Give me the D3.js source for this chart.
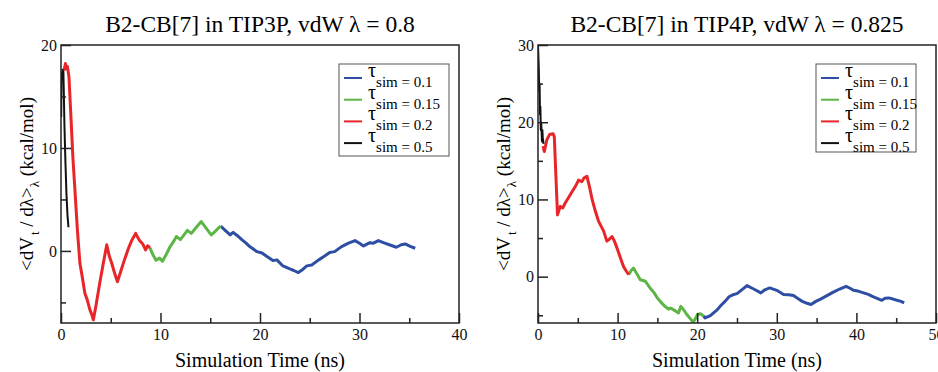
<!DOCTYPE html>
<html>
<head>
<meta charset="utf-8">
<script src="https://cdn.jsdelivr.net/npm/d3@7"></script>
<style>
  body { margin: 0; background: #fff; }
  svg { display: block; }
  svg text { font-family: 'Liberation Serif', Times, 'Times New Roman', 'DejaVu Serif', serif !important; }
</style>
</head>
<body>
<div id="chart"></div>
<script>
// series data, [time (ns), <dV/dλ> (kcal/mol)]
const tip3pTau05 = [[0.02,13],[0.05,16.5],[0.08,17.3],[0.12,16.8],[0.16,17.6],[0.2,17],[0.24,17.4],[0.28,15.5],[0.35,12],[0.45,8.5],[0.55,5.5],[0.65,3.5],[0.75,2.3]];
const tip3pTau02 = [[0.3,17.5],[0.45,18.2],[0.55,17.7],[0.65,17.9],[0.8,16.9],[1.0,13],[1.2,9],[1.4,5.9],[1.65,2],[1.9,-1.2],[2.15,-2.6],[2.4,-4.1],[2.65,-4.8],[2.9,-5.7],[3.1,-6.2],[3.25,-6.7],[3.5,-5.4],[3.9,-3.1],[4.25,-1.2],[4.6,0.6],[4.85,-0.5],[5.1,-1.2],[5.4,-2.2],[5.67,-3.0],[6.0,-2.0],[6.4,-0.8],[6.8,0.3],[7.1,1.0],[7.5,1.7],[7.9,1.0],[8.2,0.7],[8.5,0.1],[8.7,0.5],[8.95,0.3]];
const tip3pTau015 = [[8.95,0.3],[9.2,-0.3],[9.55,-0.9],[9.9,-0.7],[10.2,-1.0],[10.6,-0.3],[10.95,0.4],[11.3,0.9],[11.6,1.4],[12.0,1.1],[12.4,1.6],[12.7,2.0],[13.1,1.7],[13.6,2.3],[14.1,2.85],[14.6,2.2],[15.1,1.55],[15.5,1.9],[15.8,2.2],[16.05,2.4]];
const tip3pTau01 = [[16.05,2.4],[16.5,2.0],[17.0,1.55],[17.3,1.8],[17.7,1.5],[18.2,1.07],[18.6,0.75],[19.0,0.4],[19.7,-0.07],[20.2,-0.2],[20.7,-0.55],[21.3,-0.94],[21.7,-0.87],[22.3,-1.46],[23.0,-1.75],[23.4,-1.9],[23.85,-2.1],[24.3,-1.8],[24.7,-1.45],[25.2,-1.36],[25.9,-0.87],[26.5,-0.5],[27.0,-0.16],[27.5,-0.07],[28.2,0.42],[28.9,0.75],[29.55,1.0],[30.0,0.75],[30.4,0.49],[31.05,0.8],[31.4,0.75],[31.9,1.0],[32.4,0.8],[33.0,0.6],[33.7,0.36],[34.2,0.6],[34.6,0.68],[35.1,0.45],[35.6,0.26]];

const tip4pTau05 = [[0,30],[0.1,27],[0.15,24],[0.2,25],[0.25,21],[0.3,22],[0.35,19],[0.4,20],[0.5,17.5],[0.55,19],[0.6,18],[0.7,17.2]];
const tip4pTau02 = [[0.63,16.9],[0.8,16.2],[1.1,17.7],[1.45,18.4],[1.9,18.5],[2.05,18.1],[2.25,13],[2.45,8.0],[2.8,9.1],[3.1,8.9],[3.4,9.5],[4.05,10.6],[4.7,11.7],[5.1,12.5],[5.5,12.3],[5.8,12.8],[6.15,13.0],[6.5,11.5],[6.8,10.0],[7.2,8.5],[7.6,7.2],[8.25,5.9],[8.65,4.6],[8.9,4.8],[9.3,5.2],[9.6,4.6],[10.0,3.5],[10.4,2.3],[10.75,1.3],[11.1,0.7],[11.4,0.26]];
const tip4pTau015 = [[11.4,0.26],[11.7,0.8],[12.0,1.1],[12.4,0.4],[12.85,-0.4],[13.5,-0.6],[14.1,-1.5],[14.6,-2.1],[14.95,-2.7],[15.35,-3.2],[15.9,-3.8],[16.4,-4.2],[16.65,-4.05],[17.2,-4.4],[17.65,-4.7],[17.95,-3.84],[18.3,-4.3],[18.7,-4.9],[19.1,-5.4],[19.5,-5.9],[19.8,-5.4],[20.05,-4.9],[20.4,-4.8],[20.8,-5.1]];
const tip4pTau01 = [[20.8,-5.1],[21.0,-5.35],[21.65,-5.05],[22.5,-4.3],[23.0,-3.7],[23.5,-3.2],[24.0,-2.6],[24.6,-2.3],[25.0,-2.2],[25.6,-1.7],[26.25,-1.16],[27.1,-1.6],[28.0,-2.1],[28.5,-1.7],[29.1,-1.46],[30.0,-1.77],[30.85,-2.3],[31.5,-2.35],[32.1,-2.45],[32.6,-2.8],[33.2,-3.2],[33.8,-3.45],[34.3,-3.6],[34.9,-3.2],[35.5,-2.9],[36.3,-2.45],[37.1,-2.0],[37.9,-1.6],[38.7,-1.25],[39.2,-1.5],[39.65,-1.77],[40.3,-1.9],[40.9,-2.1],[41.5,-2.3],[42.0,-2.55],[42.6,-2.8],[43.2,-3.06],[43.6,-2.8],[44.05,-2.75],[44.6,-2.9],[45.1,-3.06],[45.6,-3.2],[46.0,-3.4]];

const legendLabels = ['sim = 0.1', 'sim = 0.15', 'sim = 0.2', 'sim = 0.5'];
const colors = ['#2e4ea3', '#5cb545', '#e8262a', '#111111'];

const tip3pXTicks = [0, 10, 20, 30, 40];
const tip3pYTicks = [0, 10, 20];
const tip4pXTicks = [0, 10, 20, 30, 40, 50];
const tip4pYTicks = [0, 10, 20, 30];

const width = 938, height = 372;
const svg = d3.select('#chart').append('svg').attr('width', width).attr('height', height);

function drawPanel(p) {
  const x = d3.scaleLinear().domain(p.xDomain).range([p.L, p.R]);
  const y = d3.scaleLinear().domain(p.yDomain).range([p.B, p.T]);
  const g = svg.append('g');

  // title
  g.append('text')
    .attr('x', (p.L + p.R) / 2).attr('y', 32)
    .attr('text-anchor', 'middle').style('font-size', '23.5px')
    .text(p.title);

  // series (plotted in order: blue, green, red, black on top)
  const line = d3.line().x(d => x(d[0])).y(d => y(d[1]));
  const clipId = 'clip' + p.id;
  g.append('clipPath').attr('id', clipId)
    .append('rect').attr('x', p.L).attr('y', p.T).attr('width', p.R - p.L).attr('height', p.B - p.T);
  p.series.forEach((s, i) => {
    g.append('path').datum(s)
      .attr('clip-path', `url(#${clipId})`)
      .attr('fill', 'none')
      .attr('stroke', colors[i])
      .attr('stroke-width', i === 3 ? 2 : 3)
      .attr('stroke-linejoin', 'round')
      .attr('d', line);
  });

  // axes, ticks pointing inward
  const xAxis = d3.axisBottom(x).tickValues(p.xTicks).tickSizeInner(-10).tickSizeOuter(0).tickPadding(5);
  const xMinor = d3.axisBottom(x).tickValues(p.xTicks.slice(0, -1).map(t => t + 5)).tickSizeInner(-5).tickSizeOuter(0).tickFormat('');
  const yAxis = d3.axisLeft(y).tickValues(p.yTicks).tickSizeInner(-10).tickSizeOuter(0).tickPadding(4);
  const yMinor = d3.axisLeft(y).tickValues(p.yMinor).tickSizeInner(-5).tickSizeOuter(0).tickFormat('');

  const gx = g.append('g').attr('transform', `translate(0,${p.B})`).call(xAxis);
  g.append('g').attr('transform', `translate(0,${p.B})`).call(xMinor);
  g.append('g').attr('transform', `translate(${p.L},0)`).call(yAxis);
  g.append('g').attr('transform', `translate(${p.L},0)`).call(yMinor);
  g.selectAll('.domain').remove();
  g.selectAll('.tick line').attr('stroke', '#222').attr('stroke-width', 1.5);
  g.selectAll('g.tick text').style('font-size', '16px').attr('fill', '#111');
  gx.selectAll('.tick text').attr('dy', '0.75em');

  // frame
  g.append('rect')
    .attr('x', p.L).attr('y', p.T).attr('width', p.R - p.L).attr('height', p.B - p.T)
    .attr('fill', 'none').attr('stroke', '#222').attr('stroke-width', 1.5);

  // axis titles
  g.append('text')
    .attr('x', (p.L + p.R) / 2).attr('y', 367)
    .attr('text-anchor', 'middle').style('font-size', '20px')
    .text('Simulation Time (ns)');

  const yl = g.append('text')
    .attr('transform', `translate(${p.L - 28},${(p.T + p.B) / 2}) rotate(-90)`)
    .attr('text-anchor', 'middle').style('font-size', '19px');
  yl.append('tspan').text('<dV');
  yl.append('tspan').attr('dy', 6).attr('dx', 2).style('font-size', '13px').text('t');
  yl.append('tspan').attr('dy', -6).text(' / dλ>');
  yl.append('tspan').attr('dy', 6).style('font-size', '13px').text('λ');
  yl.append('tspan').attr('dy', -6).text('  (kcal/mol)');

  // legend
  const lg = g.append('g');
  lg.append('rect')
    .attr('x', p.legend.x).attr('y', p.legend.y).attr('width', p.legend.w).attr('height', p.legend.h)
    .attr('fill', '#fff').attr('stroke', '#555').attr('stroke-width', 1);
  legendLabels.forEach((lab, i) => {
    const ly = p.legend.y + 14 + i * 21.7;
    lg.append('line')
      .attr('x1', p.legend.x + 5).attr('x2', p.legend.x + 23)
      .attr('y1', ly).attr('y2', ly)
      .attr('stroke', colors[i]).attr('stroke-width', 2);
    const t = lg.append('text').attr('x', p.legend.x + 29).attr('y', ly - 1).style('font-size', '20px');
    t.append('tspan').text('τ');
    t.append('tspan').attr('dy', 10).style('font-size', '15px').text(lab);
  });
}

drawPanel({
  id: 'a', title: 'B2-CB[7] in TIP3P, vdW λ = 0.8',
  L: 61, R: 459, T: 45, B: 323,
  xDomain: [0, 40], yDomain: [-7, 20],
  xTicks: tip3pXTicks, yTicks: tip3pYTicks, yMinor: [-5, 5, 15],
  series: [tip3pTau01, tip3pTau015, tip3pTau02, tip3pTau05],
  legend: { x: 339, y: 64, w: 110, h: 92 }
});

drawPanel({
  id: 'b', title: 'B2-CB[7] in TIP4P, vdW λ = 0.825',
  L: 538, R: 936, T: 45, B: 323,
  xDomain: [0, 50], yDomain: [-6, 30],
  xTicks: tip4pXTicks, yTicks: tip4pYTicks, yMinor: [-5, 5, 15, 25],
  series: [tip4pTau01, tip4pTau015, tip4pTau02, tip4pTau05],
  legend: { x: 816, y: 64, w: 100, h: 88 }
});
</script>
</body>
</html>
